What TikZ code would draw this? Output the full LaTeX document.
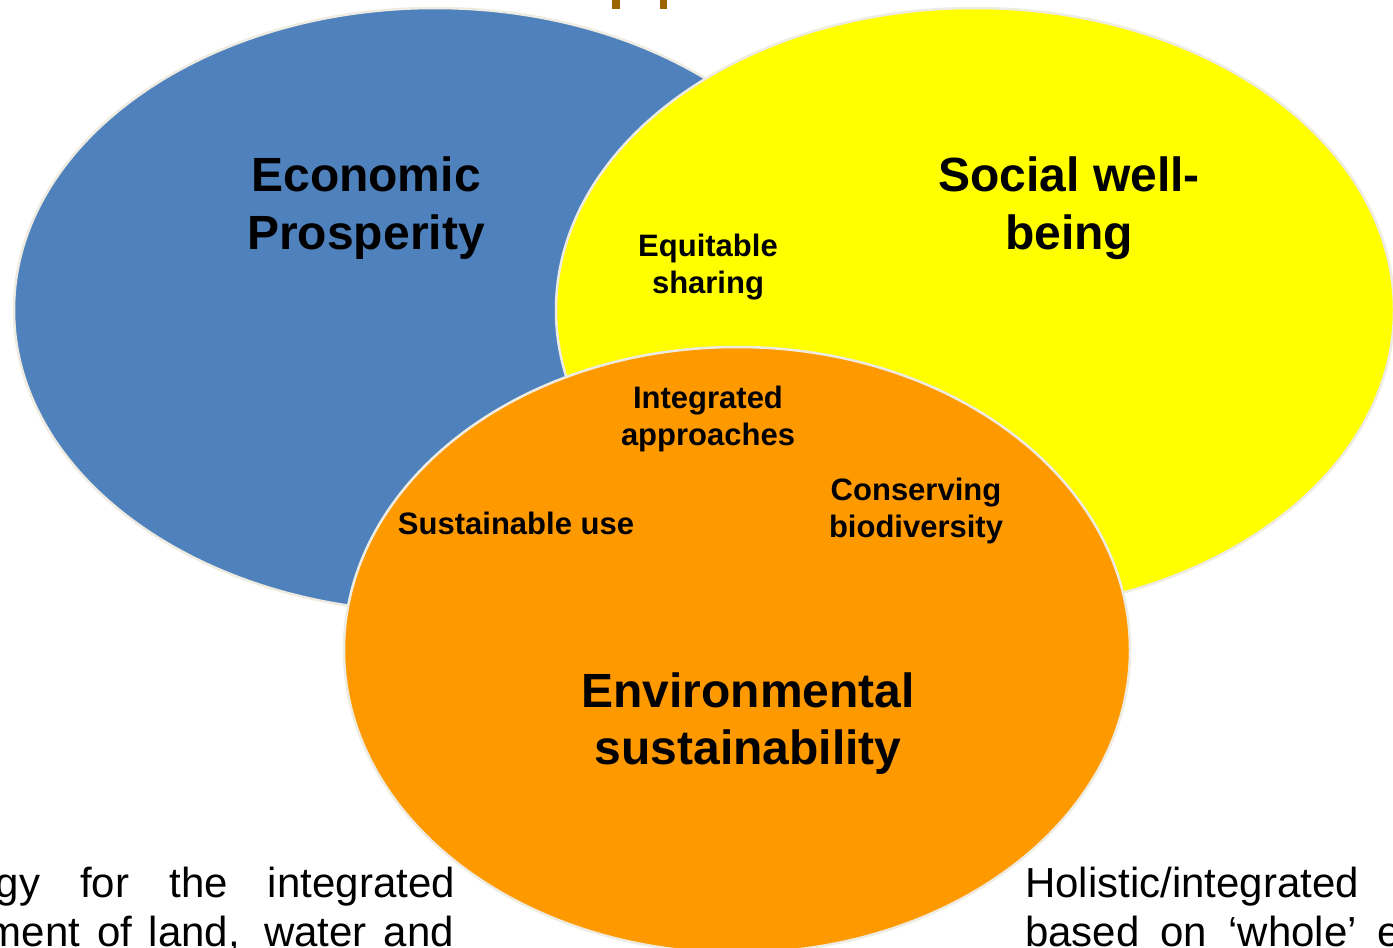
\documentclass[tikz,border=0pt]{standalone}
\usepackage{fontspec}
\setmainfont{Liberation Sans}
\definecolor{econ}{HTML}{4F81BD}
\definecolor{soc}{HTML}{FFFF00}
\definecolor{env}{HTML}{FF9900}
\definecolor{rim}{HTML}{EEECE1}
\definecolor{titlebrown}{HTML}{9C6500}
\tikzset{
  blob/.style={draw=rim, line width=2.5pt},
  biglabel/.style={inner sep=0pt, anchor=base, font=\bfseries\fontsize{48}{58}\selectfont},
  smalllabel/.style={inner sep=0pt, anchor=base, font=\bfseries\fontsize{31}{37}\selectfont},
  bodytext/.style={inner sep=0pt, font=\fontsize{42}{49}\selectfont},
}
\begin{document}
\begin{tikzpicture}[x=1pt, y=-1pt]
\useasboundingbox (0,0) rectangle (1393,948);
\clip (0,0) rectangle (1393,948);
\fill[white] (0,0) rectangle (1393,948);
% title fragments
\fill[titlebrown] (612,-2) rectangle (620,9);
\fill[titlebrown] (660,-2) rectangle (667,9);
% circles
\draw[blob, fill=econ] (435,310) ellipse [x radius=421, y radius=302];
\draw[blob, fill=soc] (975,310) ellipse [x radius=419, y radius=302];
\draw[blob, fill=env] (737,650) ellipse [x radius=393, y radius=303];
% labels
\node[biglabel] (econ1) at (366,191) {Economic};
\node[biglabel] (econ2) at (366,249) {Prosperity};
\node[biglabel] (soc1) at (1069,191) {Social well-};
\node[biglabel] (soc2) at (1069,249) {being};
\node[biglabel] (env1) at (748,707) {Environmental};
\node[biglabel] (env2) at (748,764) {sustainability};
\node[smalllabel] (eq1) at (708,256) {Equitable};
\node[smalllabel] (eq2) at (708,293) {sharing};
\node[smalllabel] (int1) at (708,408) {Integrated};
\node[smalllabel] (int2) at (708,445) {approaches};
\node[smalllabel] (cons1) at (916,500) {Conserving};
\node[smalllabel] (cons2) at (916,537) {biodiversity};
\node[smalllabel] (sus) at (516,534) {Sustainable use};
% bottom texts
\node[bodytext, anchor=base east] (left1) at (455,897) {\makebox[459pt][s]{gy\hfill for\hfill the\hfill integrated}};
\node[bodytext, anchor=base east] (left2) at (454,946) {\makebox[467pt][s]{ment of land,\hspace{6pt} water and}};
\node[bodytext, anchor=base west] (right1) at (1025,897) {Holistic/integrated};
\node[bodytext, anchor=base west] (right2) at (1025,946) {\makebox[397pt][s]{based\hfill on\hfill ‘whole’\hfill ec}};
\end{tikzpicture}
\end{document}
